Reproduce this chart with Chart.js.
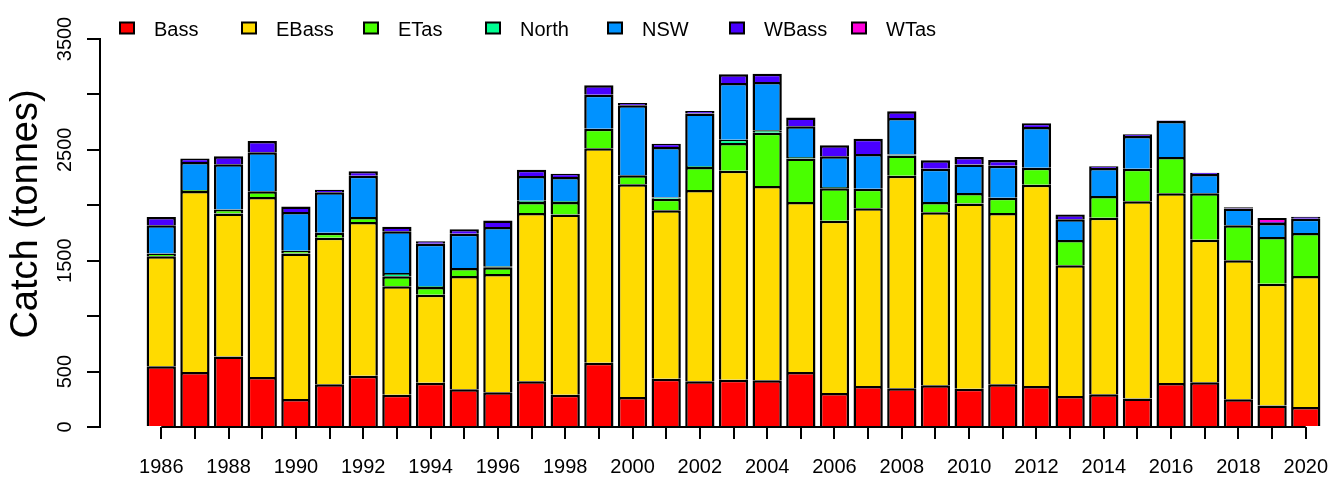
<!DOCTYPE html>
<html>
<head>
<meta charset="utf-8">
<script src="https://cdn.jsdelivr.net/npm/chart.js@4.4.0/dist/chart.umd.min.js"></script>
<style>
  body { margin: 0; background: #fff; }
</style>
</head>
<body>
<canvas id="myChart" width="1331" height="477"></canvas>
<script>
'use strict';
// catch by zone, 1986-2020
let years = [1986, 1987, 1988, 1989, 1990, 1991, 1992, 1993, 1994, 1995, 1996, 1997, 1998, 1999, 2000, 2001, 2002, 2003,
  2004, 2005, 2006, 2007, 2008, 2009, 2010, 2011, 2012, 2013, 2014, 2015, 2016, 2017, 2018, 2019, 2020];
let bass = [547, 496, 637, 451, 253, 385, 463, 292, 400, 340, 313, 412, 292, 580, 271, 436, 412, 427,
  421, 496, 307, 370, 349, 376, 346, 385, 370, 280, 295, 256, 397, 403, 250, 195, 180];
let eBass = [993, 1633, 1288, 1624, 1311, 1323, 1386, 977, 794, 1022, 1067, 1518, 1626, 1934, 1918, 1519, 1726, 1885,
  1753, 1534, 1554, 1603, 1918, 1561, 1669, 1545, 1816, 1178, 1593, 1780, 1711, 1287, 1254, 1098, 1182];
let eTas = [24, 10, 36, 51, 25, 45, 45, 90, 69, 72, 60, 100, 112, 177, 81, 105, 207, 250,
  481, 391, 292, 177, 181, 93, 96, 139, 153, 229, 196, 294, 328, 418, 315, 421, 388];
let north = [0, 0, 0, 0, 0, 0, 0, 30, 10, 0, 10, 10, 8, 0, 0, 10, 10, 30,
  21, 15, 12, 0, 10, 0, 0, 0, 0, 0, 0, 0, 0, 0, 0, 0, 0];
let nsw = [255, 252, 409, 352, 350, 364, 373, 376, 381, 310, 355, 224, 217, 307, 632, 456, 472, 511,
  436, 276, 277, 313, 330, 300, 256, 288, 367, 186, 252, 295, 324, 174, 151, 126, 129];
let wBass = [75, 30, 72, 102, 50, 24, 39, 42, 21, 39, 57, 57, 30, 84, 21, 30, 24, 78,
  75, 79, 99, 138, 60, 76, 69, 52, 33, 45, 15, 15, 5, 12, 12, 10, 18];
let wTas = [0, 0, 0, 0, 0, 0, 0, 0, 0, 0, 0, 0, 0, 0, 0, 0, 0, 0,
  0, 0, 0, 0, 0, 0, 0, 0, 0, 0, 0, 0, 0, 0, 0, 35, 0];

let zoneNames = ['Bass', 'EBass', 'ETas', 'North', 'NSW', 'WBass', 'WTas'];
let zoneValues = [bass, eBass, eTas, north, nsw, wBass, wTas];
// rainbow(7)
let zoneColors = ['#FF0000', '#FFDB00', '#49FF00', '#00FF92', '#0092FF', '#4900FF', '#FF00DB'];
let yTickLabels = [0, 500, 1500, 2500, 3500];

let FONT = '"Liberation Sans", Arial, sans-serif';

let datasets = [];
for (let i = 0; i < zoneNames.length; i++) {
  datasets.push({
    label: zoneNames[i],
    data: years.map((yr, j) => ({ x: yr, y: zoneValues[i][j] })),
    backgroundColor: zoneColors[i],
    borderColor: '#000',
    borderWidth: 2.5,
    categoryPercentage: 1,
    barPercentage: 0.87
  });
}

// R-ish extras: legend, rotated y labels, ylab, x axis line
let extras = {
  id: 'extras',
  afterDraw(chart) {
    let ctx = chart.ctx;
    let xs = chart.scales.x;
    let ys = chart.scales.y;
    ctx.save();
    ctx.fillStyle = '#000';
    ctx.strokeStyle = '#000';

    // x axis line, first tick to last tick
    ctx.lineWidth = 2;
    ctx.beginPath();
    ctx.moveTo(xs.getPixelForValue(years[0]), chart.chartArea.bottom);
    ctx.lineTo(xs.getPixelForValue(years[years.length - 1]), chart.chartArea.bottom);
    ctx.stroke();

    // y tick labels, rotated
    ctx.font = '20px ' + FONT;
    ctx.textAlign = 'center';
    ctx.textBaseline = 'alphabetic';
    for (let i = 0; i < yTickLabels.length; i++) {
      ctx.save();
      ctx.translate(70.5, ys.getPixelForValue(yTickLabels[i]));
      ctx.rotate(-Math.PI / 2);
      ctx.fillText(String(yTickLabels[i]), 0, 0);
      ctx.restore();
    }

    // y title
    ctx.save();
    ctx.font = '38px ' + FONT;
    ctx.translate(37, 214);
    ctx.rotate(-Math.PI / 2);
    ctx.fillText('Catch (tonnes)', 0, 0);
    ctx.restore();

    // legend
    ctx.font = '20px ' + FONT;
    ctx.textAlign = 'left';
    for (let i = 0; i < chart.data.datasets.length; i++) {
      let ds = chart.data.datasets[i];
      let bx = 120 + 122 * i;
      ctx.fillStyle = ds.backgroundColor;
      ctx.fillRect(bx, 22.5, 14, 11);
      ctx.lineWidth = 2;
      ctx.strokeRect(bx, 22.5, 14, 11);
      ctx.fillStyle = '#000';
      ctx.fillText(ds.label, bx + 34, 36);
    }
    ctx.restore();
  }
};

let ctx = document.getElementById('myChart').getContext('2d');
let myChart = new Chart(ctx, {
  type: 'bar',
  data: { datasets: datasets },
  plugins: [extras],
  options: {
    responsive: false,
    animation: false,
    layout: { padding: { top: 39, left: 0, right: 0, bottom: 0 } },
    plugins: {
      legend: { display: false },
      tooltip: { enabled: false }
    },
    scales: {
      x: {
        type: 'linear',
        stacked: true,
        offset: false,
        min: 1984.18,
        max: 2020.75,
        afterBuildTicks: function (scale) {
          scale.ticks = years.map(yr => ({ value: yr }));
        },
        afterFit: function (scale) {
          scale.height = 50;
          scale.paddingLeft = 0;
          scale.paddingRight = 0;
        },
        ticks: {
          autoSkip: false,
          maxRotation: 0,
          minRotation: 0,
          padding: 16,
          color: '#000',
          font: { family: FONT, size: 20 },
          callback: function (value) {
            return value % 2 === 0 ? String(value) : '';
          }
        },
        grid: { offset: false, drawOnChartArea: false, tickLength: 12, color: '#000', lineWidth: 2 },
        border: { display: false }
      },
      y: {
        stacked: true,
        min: 0,
        max: 3500,
        afterFit: function (scale) {
          scale.width = 100;
          scale.paddingTop = 0;
          scale.paddingBottom = 0;
        },
        ticks: {
          stepSize: 500,
          callback: function () { return ''; }
        },
        grid: { drawOnChartArea: false, tickLength: 13, color: '#000', lineWidth: 2 },
        border: { display: true, color: '#000', width: 2 }
      }
    }
  }
});
</script>
</body>
</html>
